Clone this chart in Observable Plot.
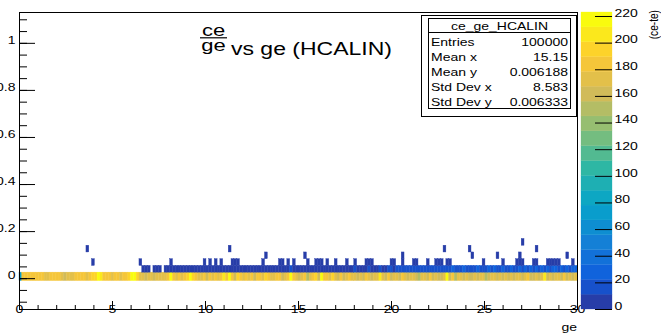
<!DOCTYPE html>
<html><head><meta charset="utf-8">
<script src="https://cdn.jsdelivr.net/npm/d3@7"></script>
<script src="https://cdn.jsdelivr.net/npm/@observablehq/plot@0.6"></script>
<style>
html,body{margin:0;padding:0;background:#fff;}
#chart{position:relative;width:661px;height:333px;overflow:hidden;}
#chart svg{position:absolute;left:0;top:0;}
</style></head><body><div id="chart"></div>
<script>
// ---- histogram binning ----
const xBinWidth = 0.15;
const rowEdges = [-0.010, 0.0256, 0.0542, 0.0828, 0.1114, 0.14, 0.1686];
// ---- row 0 (yellow band) counts per x bin ----
const row0Counts = [
 75,182,186,179,188,184,180,187,183,172,
 178,185,181,188,179,170,166,176,168,174,
 184,179,189,185,177,186,190,198,214,203,
 183,179,187,176,181,189,178,184,182,195,
 213,223,198,168,173,165,171,177,163,175,
 170,178,172,184,212,180,169,182,176,187,
 200,213,195,188,178,172,184,167,180,175,
 184,171,179,202,189,212,181,167,194,183,
 178,189,172,181,165,186,180,174,197,183,
 176,169,188,181,159,175,183,212,179,173,
 164,178,186,155,173,181,190,167,212,185,
 179,172,199,177,166,183,161,174,182,169,
 178,165,173,162,180,171,157,175,168,206,
 174,166,179,161,172,176,163,185,169,158,
 171,177,164,153,169,174,162,181,167,172,
 165,159,176,213,163,179,156,168,174,161,
 172,164,167,178,160,169,173,155,166,171,
 177,162,169,165,174,159,171,164,168,175,
 163,170,180,158,167,172,161,169,204,165,
 171,157,168,174,162,179,166,170,160,173];
// ---- row 1 (blue band) counts per x bin ----
const row1Counts = [
 0,0,0,0,0,0,0,0,0,0,
 0,0,0,0,0,0,0,0,0,0,
 0,0,0,0,0,0,0,0,0,0,
 0,0,0,0,0,0,0,0,0,0,
 0,0,0,0,3,5,4,0,4,3,
 5,0,6,5,7,4,8,6,5,7,
 9,6,8,5,7,8,7,9,6,8,
 10,5,8,9,7,6,8,10,7,9,
 6,8,10,7,9,8,6,9,8,10,
 7,9,8,6,10,9,8,14,9,7,
 10,8,9,10,7,9,10,8,9,6,
 10,9,8,10,7,9,10,8,9,10,
 15,9,8,10,9,13,10,9,8,14,
 10,9,16,12,10,14,15,13,17,12,
 16,19,14,18,13,17,20,15,18,22,
 16,19,14,21,17,23,18,15,20,24,
 17,19,22,16,25,18,21,17,23,19,
 26,18,20,24,17,22,25,19,21,27,
 18,23,20,26,19,24,22,28,20,25,
 19,23,27,21,24,20,26,22,25,29];
// ---- isolated cells above the bands ----
const sparseRow = [
 2,2,2,2,2,2,2,2,2,2, 2,2,2,2,2,2,2,2,2,2, 2,2,2,2,2,2,2,2,2,2,
 2,2,2,2,2,2,2,2,2,2, 2,2,2,2,2,2,2,2,2,2,
 3,3,3,3,3,3,3, 4,4,4,4,4, 5];
const sparseBin = [
 26,43,54,66,68,70,72,76,77,78, 87,93,94,96,98,103,106,107,108,110,
 113,117,120,124,125,126,133,134,137,141, 142,146,149,150,151,153,154,166,173,178,
 179,180,184,185,189,190,191,192,193,198,
 88,102,137,162,171,179,196, 24,75,152,161,185, 180];
const sparseCount = [
 2,3,2,4,1,3,2,5,3,2, 4,2,3,1,3,2,4,3,5,2, 3,1,4,3,2,3,4,2,3,5,
 3,2,4,3,5,2,3,4,2,3, 5,3,2,4,3,5,4,3,2,1,
 1,2,1,1,2,1,1, 1,1,2,1,1, 1];
// ---- axes ----
const xDomain = [0, 30];
const yDomain = [-0.131, 1.131];
const xMajorTicks = [0, 5, 10, 15, 20, 25, 30];
const xMajorLabels = ["0", "5", "10", "15", "20", "25", "30"];
const xMinorTicks = [0,1,2,3,4,5,6,7,8,9,10,11,12,13,14,15,16,17,18,19,20,21,22,23,24,25,26,27,28,29,30];
const yMajorTicks = [0, 0.2, 0.4, 0.6, 0.8, 1];
const yMajorLabels = ["0", "0.2", "0.4", "0.6", "0.8", "1"];
const yMinorTicks = [-0.1,-0.05,0,0.05,0.1,0.15,0.2,0.25,0.3,0.35,0.4,0.45,0.5,0.55,0.6,0.65,0.7,0.75,0.8,0.85,0.9,0.95,1,1.05,1.1];
const zTicks = [0, 20, 40, 60, 80, 100, 120, 140, 160, 180, 200, 220];
const zLabels = ["0", "20", "40", "60", "80", "100", "120", "140", "160", "180", "200", "220"];
const xTitle = "ge";
const zTitle = "(ce-te)";
const histName = "ce_ge_HCALIN";
const statsLabels = ["Entries", "Mean x", "Mean y", "Std Dev x", "Std Dev y"];
const statsValues = ["100000", "15.15", "0.006188", "8.583", "0.006333"];
const titleNum = "ce", titleDen = "ge", titleRest = "vs ge (HCALIN)";
const nContours = 20;

// ---- ROOT kBird palette ----
const birdStops = [0.0, 0.125, 0.25, 0.375, 0.5, 0.625, 0.75, 0.875, 1.0];
const birdR = [0.2082, 0.0592, 0.0780, 0.0232, 0.1802, 0.5301, 0.8186, 0.9956, 0.9764];
const birdG = [0.1664, 0.3599, 0.5041, 0.6419, 0.7178, 0.7492, 0.7328, 0.7862, 0.9832];
const birdB = [0.5293, 0.8684, 0.8385, 0.7914, 0.6425, 0.4662, 0.3499, 0.1968, 0.0539];
const interp = arr => d3.scaleLinear().domain(birdStops).range(arr).clamp(true);
const iR = interp(birdR), iG = interp(birdG), iB = interp(birdB);
const bird = t => d3.rgb(iR(t)*255, iG(t)*255, iB(t)*255).formatHex();

const cells = [];
row0Counts.forEach((c, i) => cells.push({bin: i, row: 0, count: c}));
row1Counts.forEach((c, i) => cells.push({bin: i, row: 1, count: c}));
sparseBin.forEach((b, i) => cells.push({bin: b, row: sparseRow[i], count: sparseCount[i]}));
const zMax = d3.max(cells, d => d.count);
const cellData = cells.filter(d => d.count > 0).map(d => ({
  x1: d.bin * xBinWidth, x2: (d.bin + 1) * xBinWidth,
  y1: rowEdges[d.row], y2: rowEdges[d.row + 1], count: d.count
}));
const bandColors = d3.range(nContours).map(i => bird(Math.floor((i + 0.99) * 255 / nContours) / 254));
const thresholds = d3.range(1, nContours).map(i => i * zMax / nContours);
const colorScale = {type: "threshold", domain: thresholds, range: bandColors};
const bands = d3.range(nContours).map(i => ({lo: i * zMax / nContours, hi: (i + 1) * zMax / nContours, mid: (i + 0.5) * zMax / nContours}));

const W = 661, H = 333, mL = 19, mR = 84, mT = 12, mB = 24;
const frameW = W - mL - mR, frameH = H - mT - mB;
const font = "'Liberation Sans', Arial, Helvetica, sans-serif";
const K = 0.78; // vertical squash of the original rendering

const main = Plot.plot({
  width: W, height: H, marginLeft: mL, marginRight: mR, marginTop: mT, marginBottom: mB,
  style: {background: "white", fontFamily: font, color: "black", overflow: "visible"},
  x: {domain: xDomain, axis: null},
  y: {domain: yDomain, axis: null},
  color: colorScale,
  marks: [
    Plot.rect(cellData, {x1: "x1", x2: "x2", y1: "y1", y2: "y2", fill: "count", stroke: "count", strokeWidth: 0.4}),
    Plot.tickX(xMajorTicks, {x: d => d, stroke: "black", insetTop: frameH - 8}),
    Plot.tickX(xMinorTicks, {x: d => d, stroke: "black", insetTop: frameH - 4}),
    Plot.tickY(yMajorTicks, {y: d => d, stroke: "black", insetRight: frameW - 16}),
    Plot.tickY(yMinorTicks, {y: d => d, stroke: "black", insetRight: frameW - 8}),
    Plot.text(xMajorTicks, {x: d => d, text: (d, i) => xMajorLabels[i], frameAnchor: "bottom", lineAnchor: "top", dy: 3, fontSize: 14, fill: "black"}),
    Plot.text(yMajorTicks, {y: d => d, text: (d, i) => yMajorLabels[i], frameAnchor: "left", textAnchor: "end", dx: -4, fontSize: 14, fill: "black"}),
    Plot.frame({stroke: "black"})
  ]
});

const cbar = Plot.plot({
  width: W, height: H, marginLeft: 581, marginRight: 49, marginTop: mT, marginBottom: mB,
  style: {background: "transparent", fontFamily: font, color: "black", overflow: "visible"},
  y: {domain: [0, zMax], axis: null},
  color: colorScale,
  marks: [
    Plot.rect(bands, {y1: "lo", y2: "hi", fill: "mid", stroke: "mid", strokeWidth: 0.3}),
    Plot.tickY(zTicks, {y: d => d, stroke: "black", insetLeft: 14}),
    Plot.text(zTicks, {y: d => d, text: (d, i) => zLabels[i], frameAnchor: "right", textAnchor: "start", dx: 2, fontSize: 14, fill: "black"})
  ]
});

// ---- annotations: stats box and title ----
const s = d3.select(main);
const ann = s.append("g").attr("font-family", font).attr("fill", "black").attr("text-anchor", "start");
ann.append("rect").attr("x", 421.5).attr("y", 15.5).attr("width", 155).attr("height", 101).attr("fill", "white").attr("stroke", "black");
ann.append("rect").attr("x", 428.5).attr("y", 18.5).attr("width", 142).attr("height", 90).attr("fill", "white").attr("stroke", "black");
ann.append("line").attr("x1", 428.5).attr("x2", 570.5).attr("y1", 32.5).attr("y2", 32.5).attr("stroke", "black");
ann.append("text").attr("x", 499.5).attr("y", 30).attr("text-anchor", "middle").attr("font-size", 14).text(histName);
const rowY = [46, 61, 76, 91, 105.5];
statsLabels.forEach((l, i) => {
  ann.append("text").attr("x", 431).attr("y", rowY[i]).attr("text-anchor", "start").attr("font-size", 14).text(l);
  ann.append("text").attr("x", 568).attr("y", rowY[i]).attr("text-anchor", "end").attr("font-size", 14).text(statsValues[i]);
});
ann.append("text").attr("x", 213.5).attr("y", 35.5).attr("text-anchor", "middle").attr("font-size", 22).text(titleNum);
ann.append("text").attr("x", 213.5).attr("y", 50.5).attr("text-anchor", "middle").attr("font-size", 22).text(titleDen);
ann.append("line").attr("x1", 200).attr("x2", 227).attr("y1", 37.8).attr("y2", 37.8).attr("stroke", "black").attr("stroke-width", 1.2);
ann.append("text").attr("x", 231).attr("y", 55).attr("text-anchor", "start").attr("font-size", 23).text(titleRest);
ann.append("text").attr("x", 577).attr("y", 331).attr("text-anchor", "end").attr("font-size", 14).text(xTitle);

function squash(svgNode, k) {
  svgNode.querySelectorAll("text").forEach(t => {
    const x = t.getAttribute("x"), y = t.getAttribute("y");
    const xv = x == null ? 0 : parseFloat(x), yv = y == null ? 0 : parseFloat(y);
    t.removeAttribute("x"); t.removeAttribute("y");
    const tr = t.getAttribute("transform") || "";
    t.setAttribute("transform", `${tr} translate(${xv},${yv}) scale(1,${k})`);
  });
}
squash(main, K);
squash(cbar, K);

d3.select(cbar).append("text").attr("font-family", font).attr("font-size", 13).attr("fill", "black")
  .attr("text-anchor", "end").attr("transform", `translate(658,10) scale(1,${K}) rotate(-90)`).text(zTitle);

const chart = document.getElementById("chart");
chart.appendChild(main);
chart.appendChild(cbar);
</script></body></html>
